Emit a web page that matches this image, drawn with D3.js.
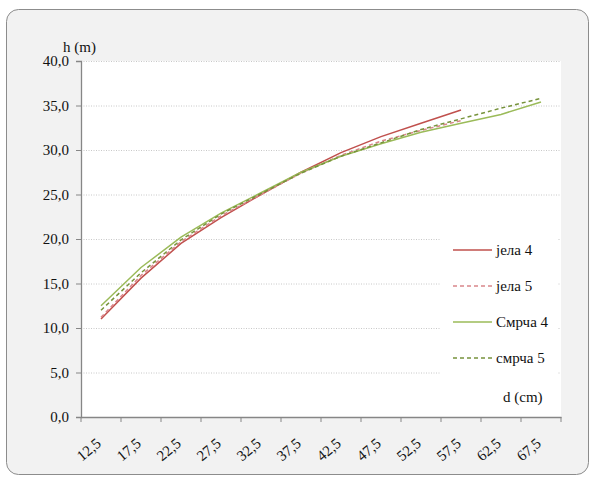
<!DOCTYPE html>
<html><head><meta charset="utf-8">
<script src="https://cdn.jsdelivr.net/npm/d3@7"></script>
<style>body{margin:0;background:#fff}svg{display:block}</style>
</head><body><svg id="c" width="590" height="477"></svg>
<script>
const categories = ["12,5","17,5","22,5","27,5","32,5","37,5","42,5","47,5","52,5","57,5","62,5","67,5"];
const yTicks = [0,5,10,15,20,25,30,35,40];
const jela4  = [11.0,15.6,19.5,22.4,25.0,27.5,29.7,31.5,33.0,34.5];
const jela5  = [11.2,15.9,19.7,22.6,25.0,27.4,29.4,31.0,32.2,33.3];
const smrca4 = [12.5,16.8,20.2,22.9,25.2,27.5,29.3,30.7,32.0,33.0,34.0,35.4];
const smrca5 = [12.0,16.2,19.9,22.8,25.1,27.4,29.3,30.8,32.3,33.5,34.7,35.8];
const seriesNames = ["јела 4","јела 5","Смрча 4","смрча 5"];
const series = [
  {name:seriesNames[0], values:jela4,  color:"#c0504d", dash:null},
  {name:seriesNames[1], values:jela5,  color:"#d9868a", dash:"4,3"},
  {name:seriesNames[2], values:smrca4, color:"#9bbb59", dash:null},
  {name:seriesNames[3], values:smrca5, color:"#77933c", dash:"4,3"}
];
const FONT = '"Liberation Serif"';

const svg = d3.select("#c");
svg.append("rect").attr("x",6.5).attr("y",9.5).attr("width",582).attr("height",465)
  .attr("rx",12).attr("fill","#f2f2f2").attr("stroke","#8c8c8c").attr("stroke-width",1);

const L=81, R=561, T=61, B=417;
svg.append("rect").attr("x",L).attr("y",T).attr("width",R-L).attr("height",B-T).attr("fill","#fff");

const x = d3.scaleBand().domain(categories).range([L,R]);
const y = d3.scaleLinear().domain([0,40]).range([B,T]);

// gridlines
svg.append("g").selectAll("line").data(yTicks.filter(d=>d>0)).join("line")
  .attr("x1",L).attr("x2",R).attr("y1",d=>y(d)+0.5).attr("y2",d=>y(d)+0.5)
  .attr("stroke","#c8c8c8").attr("stroke-dasharray","1,1.5");

// y axis
const ya = svg.append("g").attr("transform",`translate(${L},0)`)
  .call(d3.axisLeft(y).tickValues(yTicks).tickSize(5).tickFormat(d=>d3.format(".1f")(d).replace(".",",")));
ya.attr("font-family",null);
ya.select(".domain").attr("stroke","#868686").attr("stroke-width",1.3);
ya.selectAll(".tick line").attr("stroke","#868686");
ya.selectAll("text").style("font-family",FONT).attr("font-size",15).attr("fill","#111").attr("x",-12).attr("dy","0.32em");

// x axis
const xa = svg.append("g").attr("transform",`translate(0,${B})`)
  .call(d3.axisBottom(x).tickSize(0).tickFormat(""));
xa.select(".domain").attr("stroke","#868686").attr("stroke-width",1.3);
xa.selectAll(".tick line").remove();
svg.append("g").selectAll("line").data(categories.concat(["_end"])).join("line")
  .attr("x1",(d,i)=>L+i*x.bandwidth()).attr("x2",(d,i)=>L+i*x.bandwidth())
  .attr("y1",B).attr("y2",B+5).attr("stroke","#868686");
svg.append("g").selectAll("text").data(categories).join("text")
  .attr("transform",d=>`translate(${x(d)+x.bandwidth()/2+1},${B+28}) rotate(-40)`)
  .attr("text-anchor","end").style("font-family",FONT).attr("font-size",15).attr("fill","#111")
  .text(d=>d);

// legend background
svg.append("rect").attr("x",441).attr("y",228).attr("width",117).attr("height",186).attr("fill","#fff");

// lines
const line = d3.line().x((d,i)=>x(categories[i])+x.bandwidth()/2).y(d=>y(d));
series.forEach(s=>{
  svg.append("path").datum(s.values).attr("d",line).attr("fill","none")
    .attr("stroke",s.color).attr("stroke-width",1.5).attr("stroke-dasharray",s.dash);
});

// legend
const ly=[250,286,322,358];
series.forEach((s,i)=>{
  svg.append("line").attr("x1",453).attr("x2",492).attr("y1",ly[i]).attr("y2",ly[i])
    .attr("stroke",s.color).attr("stroke-width",1.3).attr("stroke-dasharray",s.dash);
  svg.append("text").attr("x",496).attr("y",ly[i]+5).style("font-family",FONT).attr("font-size",15).attr("fill","#111").text(s.name);
});

svg.append("text").attr("x",503).attr("y",402).style("font-family",FONT).attr("font-size",15).attr("fill","#111").text("d (cm)");
svg.append("text").attr("x",63).attr("y",52).style("font-family",FONT).attr("font-size",15).attr("fill","#111").text("h (m)");
</script></body></html>
